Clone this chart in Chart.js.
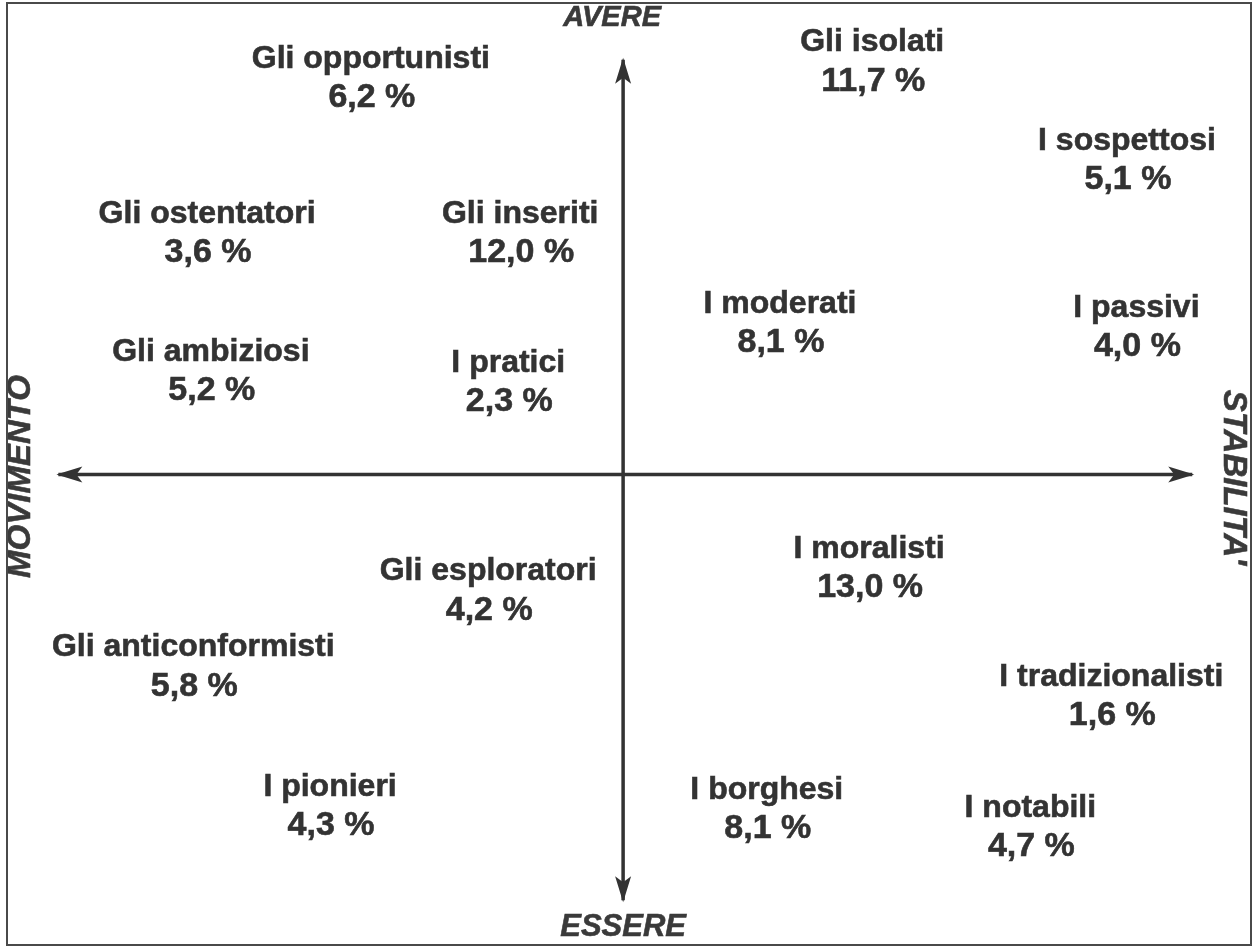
<!DOCTYPE html>
<html>
<head>
<meta charset="utf-8">
<script src="https://cdn.jsdelivr.net/npm/chart.js@4.4.1/dist/chart.umd.min.js"></script>
<style>
  html, body { margin: 0; padding: 0; background: #fff; }
  #wrap { width: 1255px; height: 949px; position: relative; }
</style>
</head>
<body>
<div id="wrap"><canvas id="map"></canvas></div>
<script>
// Groups (socio-styles) and their share of the population
const groups = [
  'Gli opportunisti', 'Gli isolati', 'I sospettosi', 'Gli ostentatori',
  'Gli inseriti', 'I moderati', 'I passivi', 'Gli ambiziosi',
  'I pratici', 'I moralisti', 'Gli esploratori', 'Gli anticonformisti',
  'I tradizionalisti', 'I pionieri', 'I borghesi', 'I notabili'
];
const shares = [6.2, 11.7, 5.1, 3.6, 12.0, 8.1, 4.0, 5.2, 2.3, 13.0, 4.2, 5.8, 1.6, 4.3, 8.1, 4.7];

// position on the map: movimento (-) / stabilita' (+), essere (-) / avere (+)
const stabilita = [-4.02, 3.97, 8.03, -6.63, -1.64, 2.50, 8.18, -6.57, -1.83, 3.92, -2.15, -6.85, 7.78, -4.67, 2.29, 6.49];
const avere = [8.34, 8.68, 6.61, 5.07, 5.07, 3.17, 3.09, 2.16, 1.93, -1.99, -2.46, -4.06, -4.69, -7.01, -7.07, -7.45];

// axis ends
const axisX = [-9.0, 9.07];
const axisY = [8.74, -8.97];

const ink = '#333333';
const fmt = v => v.toFixed(1).replace('.', ',') + ' %';

const arrowPlugin = {
  id: 'arrows',
  afterDatasetsDraw(chart) {
    const ctx = chart.ctx;
    [0, 1].forEach(i => {
      const pts = chart.getDatasetMeta(i).data;
      const a = pts[0], b = pts[pts.length - 1];
      [[b, a], [a, b]].forEach(([from, tip]) => {
        const ang = Math.atan2(tip.y - from.y, tip.x - from.x);
        ctx.save();
        ctx.translate(tip.x, tip.y);
        ctx.rotate(ang);
        ctx.fillStyle = ink;
        ctx.beginPath();
        ctx.moveTo(2, 0);
        ctx.lineTo(-24, -8);
        ctx.lineTo(-18, 0);
        ctx.lineTo(-24, 8);
        ctx.closePath();
        ctx.fill();
        ctx.restore();
      });
    });
  }
};

function boldText(ctx, txt, x, y) {
  ctx.fillText(txt, x, y);
  ctx.strokeText(txt, x, y);
}

const labelPlugin = {
  id: 'labels',
  afterDraw(chart) {
    const ctx = chart.ctx;
    const area = chart.chartArea;
    const xs = chart.scales.x, ys = chart.scales.y;
    ctx.save();
    ctx.fillStyle = ink;
    ctx.strokeStyle = ink;
    ctx.lineWidth = 0.6;
    ctx.textAlign = 'center';
    ctx.textBaseline = 'middle';

    chart.getDatasetMeta(2).data.forEach((pt, i) => {
      ctx.font = 'bold 32px "Liberation Sans", Arial, sans-serif';
      boldText(ctx, groups[i], pt.x, pt.y - 20);
      ctx.font = 'bold 34px "Liberation Sans", Arial, sans-serif';
      boldText(ctx, fmt(shares[i]), pt.x + 1, pt.y + 19);
    });

    // axis titles
    ctx.fillStyle = '#3a3a3a';
    ctx.strokeStyle = '#3a3a3a';
    const cx = xs.getPixelForValue(0), cy = ys.getPixelForValue(0);
    ctx.font = 'italic bold 29px "Liberation Sans", Arial, sans-serif';
    boldText(ctx, 'AVERE', cx - 11, area.top + 18);
    ctx.font = 'italic bold 31px "Liberation Sans", Arial, sans-serif';
    boldText(ctx, 'ESSERE', cx, area.bottom - 22);
    ctx.font = 'italic bold 33px "Liberation Sans", Arial, sans-serif';
    ctx.save();
    ctx.translate(area.left + 21, cy + 2);
    ctx.rotate(-Math.PI / 2);
    boldText(ctx, 'MOVIMENTO', 0, 0);
    ctx.restore();
    ctx.save();
    ctx.translate(area.right - 22, cy + 3);
    ctx.rotate(Math.PI / 2);
    boldText(ctx, "STABILITA'", 0, 0);
    ctx.restore();

    // frame
    ctx.strokeStyle = '#4a4a4a';
    ctx.lineWidth = 2;
    ctx.strokeRect(area.left + 7, area.top + 3, area.width - 11, area.height - 7);
    ctx.restore();
  }
};

new Chart(document.getElementById('map'), {
  type: 'scatter',
  data: {
    datasets: [
      {
        type: 'line',
        data: axisX.map(x => ({ x, y: 0 })),
        borderColor: ink,
        borderWidth: 3.5,
        pointRadius: 0
      },
      {
        type: 'line',
        data: axisY.map(y => ({ x: 0, y })),
        borderColor: ink,
        borderWidth: 3.5,
        pointRadius: 0
      },
      {
        data: groups.map((g, i) => ({ x: stabilita[i], y: avere[i] })),
        pointRadius: 0
      }
    ]
  },
  options: {
    responsive: true,
    maintainAspectRatio: false,
    animation: false,
    layout: { padding: 0 },
    plugins: { legend: { display: false }, tooltip: { enabled: false } },
    scales: {
      x: { type: 'linear', min: -9.93, max: 10.07, display: false },
      y: { type: 'linear', min: -10, max: 10, display: false }
    }
  },
  plugins: [arrowPlugin, labelPlugin]
});
</script>
</body>
</html>
